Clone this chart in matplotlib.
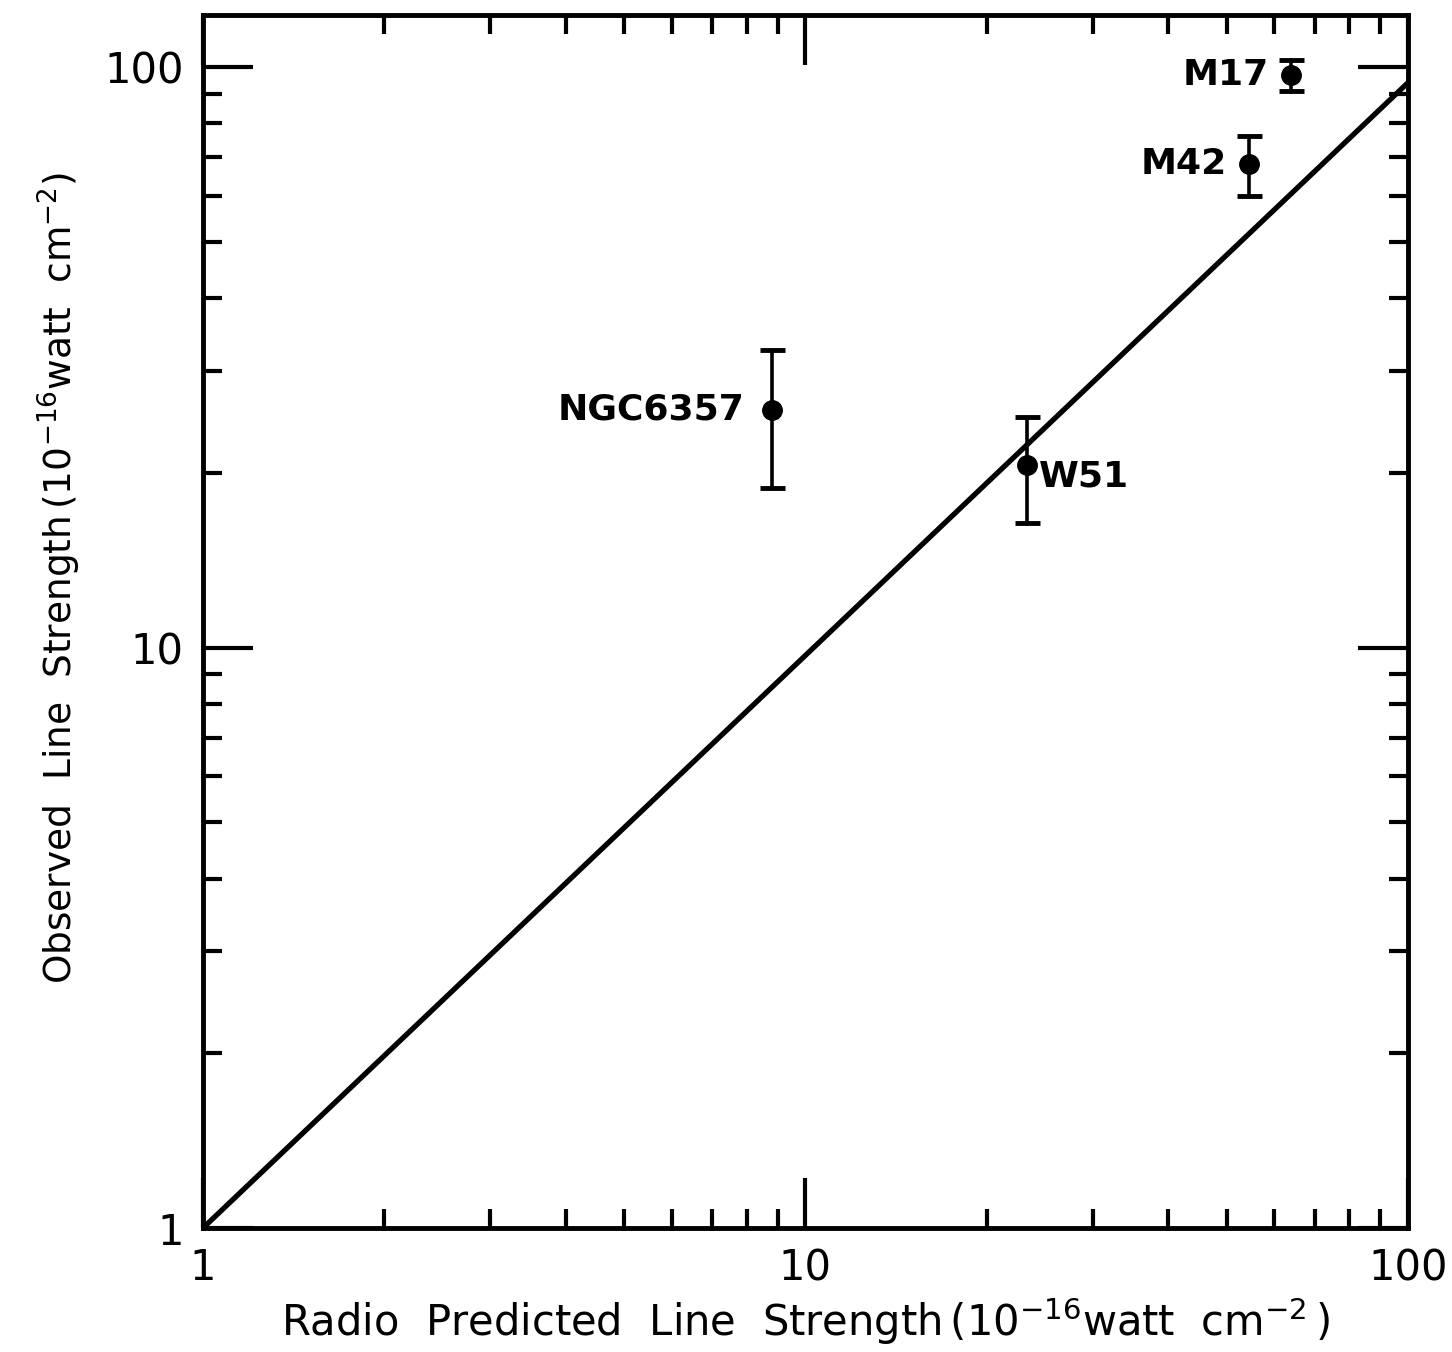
import numpy as np
import matplotlib.pyplot as plt
from matplotlib.ticker import LogLocator, NullFormatter, FixedLocator, FixedFormatter

# ─────────────────────────────────────────
# DATA
# ─────────────────────────────────────────
sources   = ['M17', 'M42', 'NGC 6357', 'W51']
predicted = [64.0, 54.5, 8.8, 23.3]
observed  = [97.0, 68.0, 25.7, 20.6]
err_low   = [6.0, 8.0, 6.9, 4.2]
err_high  = [6.0, 8.0, 6.9, 4.4]

line_x = [1.0, 100.0]
line_y = [1.0, 94.0]

tick_vals   = [1, 10, 100]
tick_labels = ['1', '10', '100']

# ─────────────────────────────────────────
# FIGURE
# ─────────────────────────────────────────
fig = plt.figure(figsize=(14.52, 13.52), dpi=100)
ax = fig.add_axes([0.1398, 0.0917, 0.8298, 0.8972])

ax.set_xscale('log')
ax.set_yscale('log')
ax.set_xlim(1, 100)
ax.set_ylim(1, 123)

# one-to-one line
ax.plot(line_x, line_y, color='black', lw=3.8, solid_capstyle='round')

# data points with error bars
ax.errorbar(predicted, observed, yerr=[err_low, err_high], fmt='o',
            color='black', ms=14, elinewidth=2.6, capsize=9, capthick=3.5)

# labels next to the points
label_offsets = {
    'M17':      (-16, 0, 'right'),
    'M42':      (-16, 0, 'right'),
    'NGC 6357': (-20, 0, 'right'),
    'W51':      (9, -8, 'left'),
}
for name, x, y in zip(sources, predicted, observed):
    dx, dy, ha = label_offsets[name]
    ax.annotate(name.replace('NGC 6357', 'NGC6357'), (x, y),
                xytext=(dx, dy), textcoords='offset points',
                ha=ha, va='center', fontsize=26, fontweight='bold')

# spines and ticks
for s in ax.spines.values():
    s.set_linewidth(3.5)

ax.xaxis.set_major_locator(FixedLocator(tick_vals))
ax.xaxis.set_major_formatter(FixedFormatter(tick_labels))
ax.yaxis.set_major_locator(FixedLocator(tick_vals))
ax.yaxis.set_major_formatter(FixedFormatter(tick_labels))
for axis in (ax.xaxis, ax.yaxis):
    axis.set_minor_locator(LogLocator(base=10, subs=np.arange(2, 10)))
    axis.set_minor_formatter(NullFormatter())

ax.tick_params(which='both', direction='in', top=True, right=True,
               labelsize=30, width=3.0)
ax.tick_params(which='major', length=36, pad=14)
ax.tick_params(which='minor', length=14)

ax.set_xlabel(r'Radio  Predicted  Line  Strength$\,($10$^{-16}$watt  cm$^{-2}\,)$',
              fontsize=30, labelpad=4)
ax.set_ylabel(r'Observed  Line  Strength$\,($10$^{-16}$watt  cm$^{-2})$',
              fontsize=27)
ax.yaxis.set_label_coords(-0.100, 0.536)

plt.savefig('out.png', dpi=100)
plt.close()
